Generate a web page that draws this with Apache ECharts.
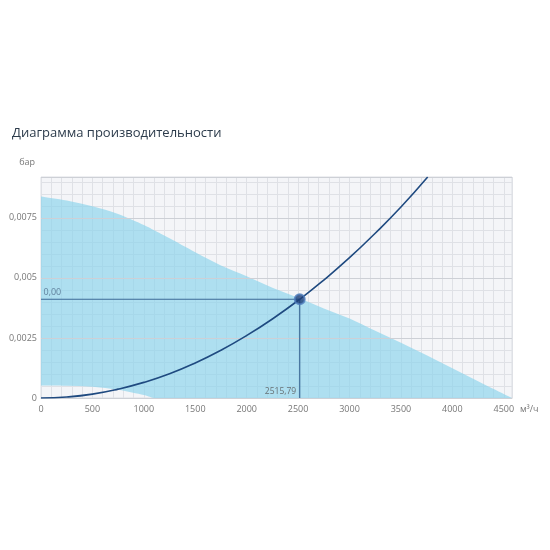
<!DOCTYPE html>
<html>
<head>
<meta charset="utf-8">
<script src="https://cdn.jsdelivr.net/npm/echarts@6/dist/echarts.min.js"></script>
<style>
  html, body { margin: 0; padding: 0; background: #fff; }
  #chart { width: 550px; height: 550px; }
</style>
</head>
<body>
<div id="chart"></div>
<script>
// fan working range (area between upper and lower limits)
const fanFlow = [0, 250, 500, 750, 1000, 1100, 1250, 1500, 1750, 2000, 2250, 2500, 2750, 3000, 3250, 3500, 3750, 4000, 4250, 4500, 4580]
const fanUpper = [0.00839, 0.00822, 0.00798, 0.00766, 0.00720, 0.00698, 0.00665, 0.00607, 0.00552, 0.00507, 0.00459, 0.00417, 0.00373, 0.00331, 0.00280, 0.00230, 0.00178, 0.00124, 0.00070, 0.00017, 0]
const fanLower = [0.00052, 0.00051, 0.00047, 0.00034, 0.00012, 0, 0, 0, 0, 0, 0, 0, 0, 0, 0, 0, 0, 0, 0, 0, 0]

// system curve
const sysFlow = [0, 250, 500, 750, 1000, 1250, 1500, 1750, 2000, 2250, 2515.79, 2750, 3000, 3250, 3500, 3760]
const sysPressure = [0, 0.00004, 0.00016, 0.00037, 0.00065, 0.00101, 0.00146, 0.00199, 0.00260, 0.00329, 0.00411, 0.00491, 0.00584, 0.00686, 0.00795, 0.0092]

// operating point
const workFlow = 2515.79
const workPressure = 0.00411
const workFlowLabel = '2515,79'
const workPressureLabel = '0,00'

const fmt = v => String(v).replace('.', ',')

// smooth curve through pixel points (catmull-rom -> bezier)
function curvePath(pts) {
  let d = ''
  for (let i = 0; i < pts.length - 1; i++) {
    const p0 = pts[Math.max(i - 1, 0)]
    const p1 = pts[i]
    const p2 = pts[i + 1]
    const p3 = pts[Math.min(i + 2, pts.length - 1)]
    const c1 = [p1[0] + (p2[0] - p0[0]) / 6, p1[1] + (p2[1] - p0[1]) / 6]
    const c2 = [p2[0] - (p3[0] - p1[0]) / 6, p2[1] - (p3[1] - p1[1]) / 6]
    d += ' C' + c1.join(',') + ' ' + c2.join(',') + ' ' + p2.join(',')
  }
  return d
}

const chart = echarts.init(document.getElementById('chart'))
chart.setOption({
  animation: false,
  textStyle: { fontFamily: 'Open Sans' },
  title: {
    text: 'Диаграмма производительности',
    left: 12,
    top: 127,
    padding: 0,
    textStyle: { fontSize: 13, fontWeight: 500, color: '#2c3b4b' }
  },
  grid: {
    left: 41,
    right: 38,
    top: 177,
    bottom: 152,
    show: true,
    backgroundColor: '#f4f5f8',
    borderColor: '#dcdfe4',
    borderWidth: 1
  },
  xAxis: [{
    type: 'value',
    min: 0,
    max: 4580,
    interval: 500,
    name: 'м³/ч',
    nameLocation: 'end',
    nameGap: 8,
    nameTextStyle: { fontSize: 9, color: '#777', verticalAlign: 'top', padding: [7, 0, 0, 0] },
    axisLine: { show: true, lineStyle: { color: '#d0d3d8' } },
    axisTick: { show: false },
    axisLabel: {
      fontSize: 9,
      color: '#777',
      margin: 7,
      showMaxLabel: false,
      formatter: v => String(v)
    },
    splitLine: { show: false }
  }, {
    type: 'value',
    min: 0,
    max: 4580,
    interval: 100,
    show: true,
    axisLine: { show: false },
    axisTick: { show: false },
    axisLabel: { show: false },
    splitLine: { show: true, lineStyle: { color: '#dfe1e6', width: 1 } }
  }],
  yAxis: [{
    type: 'value',
    min: 0,
    max: 0.0092,
    interval: 0.0025,
    name: 'бар',
    nameLocation: 'end',
    nameGap: 10,
    nameTextStyle: { fontSize: 9, color: '#777', align: 'right', padding: [0, 6, 0, 0] },
    axisLine: { show: false },
    axisTick: { show: false },
    axisLabel: {
      fontSize: 9,
      color: '#777',
      margin: 4,
      showMaxLabel: false,
      formatter: v => fmt(v)
    },
    splitLine: { show: true, lineStyle: { color: '#cdd0d6', width: 1 } },
    z: 3
  }, {
    type: 'value',
    min: 0,
    max: 0.0092,
    interval: 0.0005,
    show: true,
    axisLine: { show: false },
    axisTick: { show: false },
    axisLabel: { show: false },
    splitLine: { show: true, lineStyle: { color: '#dfe1e6', width: 1 } }
  }],
  series: [{
    name: 'fan',
    type: 'custom',
    silent: true,
    clip: true,
    data: [[0, 0]],
    renderItem: function(params, api) {
      const top = fanFlow.map((x, i) => api.coord([x, fanUpper[i]]))
      const bottom = fanFlow.map((x, i) => api.coord([x, fanLower[i]])).reverse()
      const d = 'M' + top[0].join(',') + curvePath(top) +
        ' L' + bottom[0].join(',') + curvePath(bottom) + ' Z'
      return {
        type: 'path',
        shape: { pathData: d },
        style: { fill: 'rgba(140, 212, 236, 0.68)', stroke: 'none' }
      }
    },
    z: 1
  }, {
    name: 'work',
    type: 'line',
    showSymbol: false,
    silent: true,
    lineStyle: { color: '#3d6a96', width: 1.2 },
    data: [[0, workPressure], [workFlow, workPressure], [workFlow, 0]],
    z: 3
  }, {
    name: 'system',
    type: 'line',
    smooth: true,
    showSymbol: false,
    silent: true,
    clip: true,
    lineStyle: { color: '#1f4a80', width: 1.6 },
    data: sysFlow.map((x, i) => [x, sysPressure[i]]),
    z: 4
  }, {
    name: 'labels',
    type: 'scatter',
    symbolSize: 1,
    silent: true,
    itemStyle: { color: 'transparent' },
    data: [
      {
        value: [0, workPressure],
        label: { show: true, position: 'right', offset: [-3, -7], formatter: workPressureLabel, fontSize: 9, color: '#4d6a88' }
      },
      {
        value: [workFlow, 0],
        label: { show: true, position: 'left', offset: [2, -6], formatter: workFlowLabel, fontSize: 8.5, color: '#555' }
      }
    ],
    z: 5
  }, {
    name: 'point',
    type: 'scatter',
    symbolSize: 10,
    silent: true,
    itemStyle: { color: '#1d3f78', borderColor: '#4f7dbd', borderWidth: 2 },
    data: [[workFlow, workPressure]],
    z: 6
  }]
})
</script>
</body>
</html>
